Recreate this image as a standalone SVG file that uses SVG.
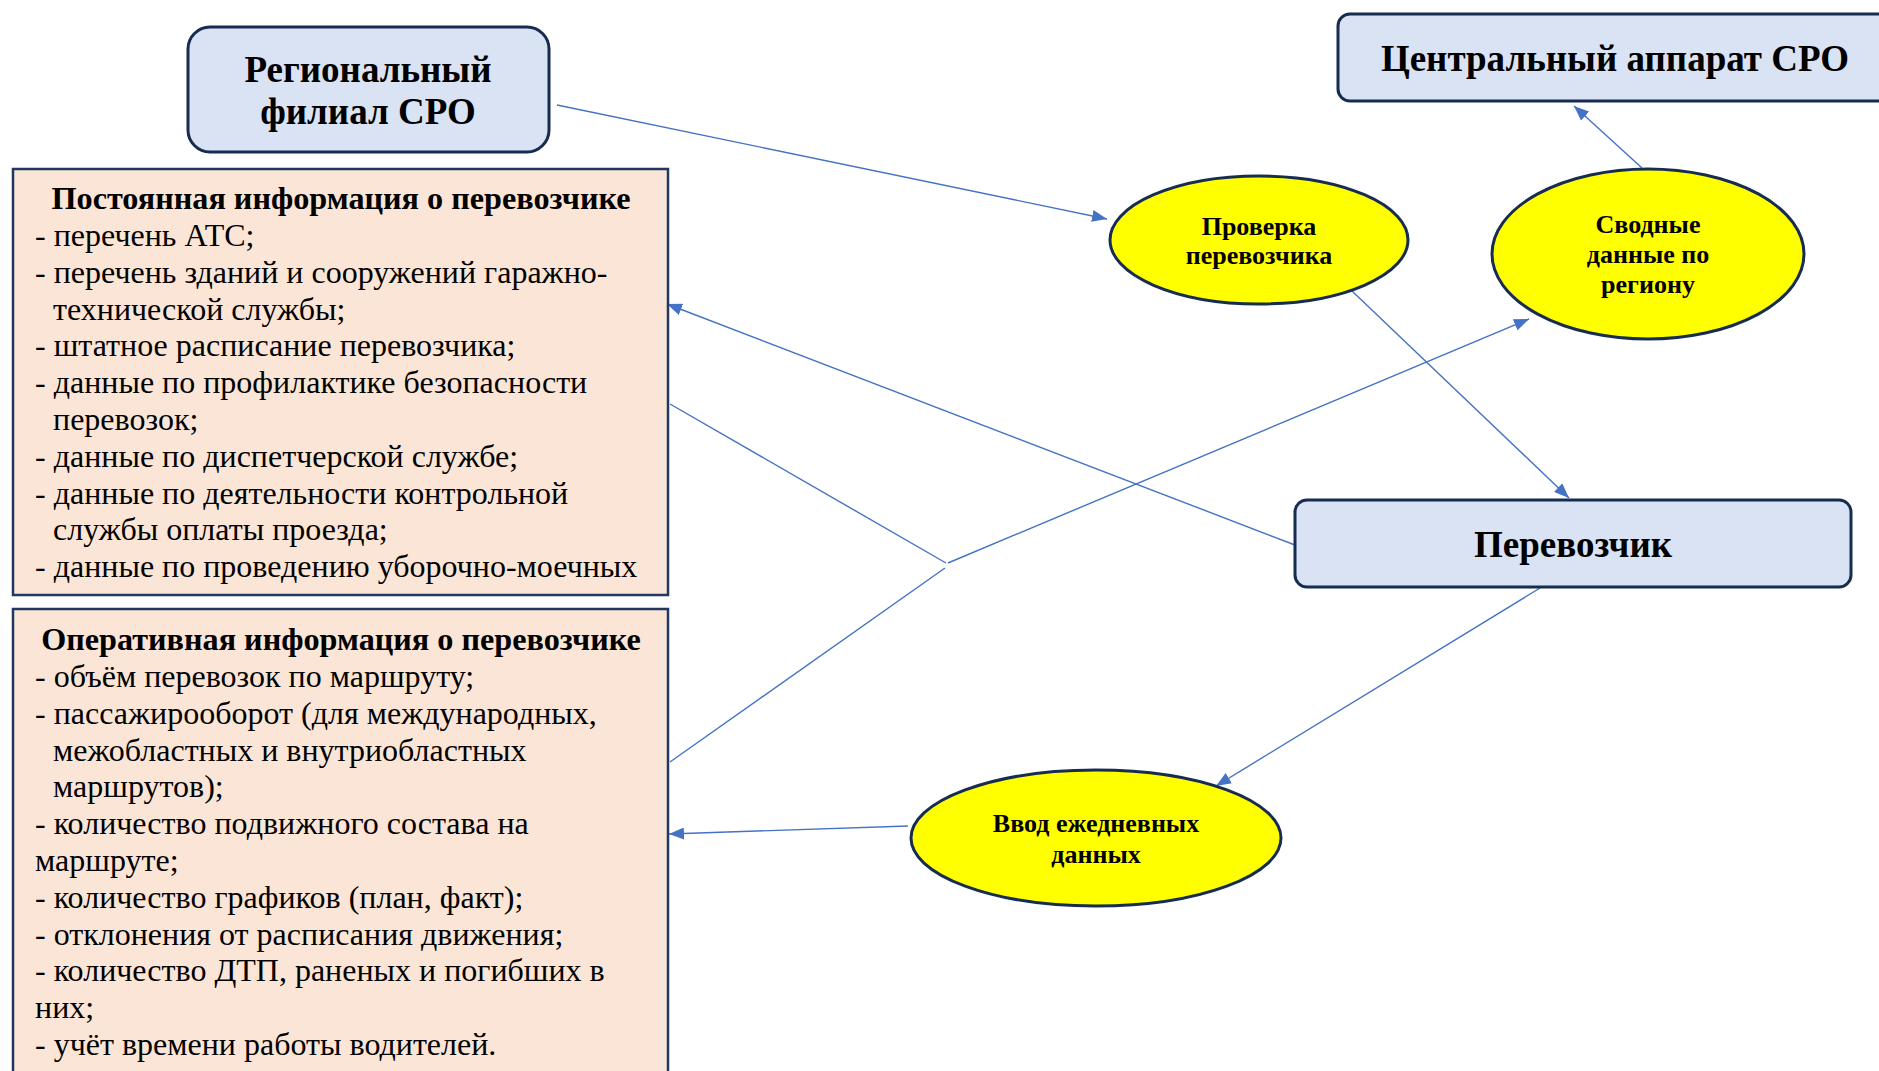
<svg xmlns="http://www.w3.org/2000/svg" width="1879" height="1071" viewBox="0 0 1879 1071">
<style>
.bluebox{fill:#dae3f3;stroke:#172c51;stroke-width:3}
.infobox{fill:#fbe5d6;stroke:#1f3864;stroke-width:2.5}
.oval{fill:#ffff00;stroke:#172c51;stroke-width:3}
.big{font-family:"Liberation Serif","Times New Roman",serif;font-weight:bold;font-size:37px;fill:#000;text-anchor:middle}
.small{font-family:"Liberation Serif","Times New Roman",serif;font-weight:bold;font-size:26px;fill:#000;text-anchor:middle}
.title{font-family:"Liberation Serif","Times New Roman",serif;font-weight:bold;font-size:32.2px;fill:#000;text-anchor:middle}
.body{font-family:"Liberation Serif","Times New Roman",serif;font-size:32px;fill:#000}
.conn{stroke:#4472c4;stroke-width:1.4;fill:none}
</style>
<defs>
<marker id="arr" viewBox="0 0 15 12" refX="15" refY="6" markerWidth="15" markerHeight="12" orient="auto" markerUnits="userSpaceOnUse">
<path d="M0,0 L15,6 L0,12 z" fill="#4472c4"/>
</marker>
</defs>

<g id="connectors">
<line class="conn" x1="557" y1="105" x2="1107" y2="219" marker-end="url(#arr)"/>
<line class="conn" x1="1642" y1="168" x2="1574" y2="106" marker-end="url(#arr)"/>
<line class="conn" x1="1352" y1="291" x2="1569" y2="498" marker-end="url(#arr)"/>
<line class="conn" x1="1295" y1="545" x2="667" y2="304" marker-end="url(#arr)"/>
<line class="conn" x1="670" y1="404" x2="946" y2="563"/>
<line class="conn" x1="670" y1="762" x2="945" y2="568"/>
<line class="conn" x1="948" y1="563" x2="1529" y2="319" marker-end="url(#arr)"/>
<line class="conn" x1="1540" y1="588" x2="1216" y2="786" marker-end="url(#arr)"/>
<line class="conn" x1="908" y1="826" x2="669" y2="834" marker-end="url(#arr)"/>
</g>

<g id="regional">
<rect class="bluebox" x="188" y="27" width="361" height="125" rx="22"/>
<text class="big" x="368" y="82">Региональный</text>
<text class="big" x="368" y="124">филиал СРО</text>
</g>

<g id="central">
<rect class="bluebox" x="1338" y="14" width="560" height="87" rx="12"/>
<text class="big" x="1615" y="71">Центральный аппарат СРО</text>
</g>

<g id="permanent">
<rect class="infobox" x="13" y="169" width="655" height="426"/>
<text class="title" x="341" y="209">Постоянная информация о перевозчике</text>
<text class="body" x="35" y="246">- перечень АТС;</text>
<text class="body" x="35" y="283">- перечень зданий и сооружений гаражно-</text>
<text class="body" x="53" y="320">технической службы;</text>
<text class="body" x="35" y="356">- штатное расписание перевозчика;</text>
<text class="body" x="35" y="393">- данные по профилактике безопасности</text>
<text class="body" x="53" y="430">перевозок;</text>
<text class="body" x="35" y="467">- данные по диспетчерской службе;</text>
<text class="body" x="35" y="504">- данные по деятельности контрольной</text>
<text class="body" x="53" y="540">службы оплаты проезда;</text>
<text class="body" x="35" y="577">- данные по проведению уборочно-моечных</text>
</g>

<g id="operative">
<rect class="infobox" x="13" y="609" width="655" height="480"/>
<text class="title" x="341" y="650">Оперативная информация о перевозчике</text>
<text class="body" x="35" y="687">- объём перевозок по маршруту;</text>
<text class="body" x="35" y="724">- пассажирооборот (для международных,</text>
<text class="body" x="53" y="761">межобластных и внутриобластных</text>
<text class="body" x="53" y="797">маршрутов);</text>
<text class="body" x="35" y="834">- количество подвижного состава на</text>
<text class="body" x="35" y="871">маршруте;</text>
<text class="body" x="35" y="908">- количество графиков (план, факт);</text>
<text class="body" x="35" y="945">- отклонения от расписания движения;</text>
<text class="body" x="35" y="981">- количество ДТП, раненых и погибших в</text>
<text class="body" x="35" y="1018">них;</text>
<text class="body" x="35" y="1055">- учёт времени работы водителей.</text>
</g>

<g id="check">
<ellipse class="oval" cx="1259" cy="240" rx="149" ry="64"/>
<text class="small" x="1259" y="235">Проверка</text>
<text class="small" x="1259" y="264">перевозчика</text>
</g>

<g id="summary">
<ellipse class="oval" cx="1648" cy="254" rx="156" ry="85"/>
<text class="small" x="1648" y="233">Сводные</text>
<text class="small" x="1648" y="263">данные по</text>
<text class="small" x="1648" y="293">региону</text>
</g>

<g id="carrier">
<rect class="bluebox" x="1295" y="500" width="556" height="87" rx="12"/>
<text class="big" x="1573" y="557">Перевозчик</text>
</g>

<g id="daily">
<ellipse class="oval" cx="1096" cy="838" rx="185" ry="68"/>
<text class="small" x="1096" y="832">Ввод ежедневных</text>
<text class="small" x="1096" y="863">данных</text>
</g>
</svg>
